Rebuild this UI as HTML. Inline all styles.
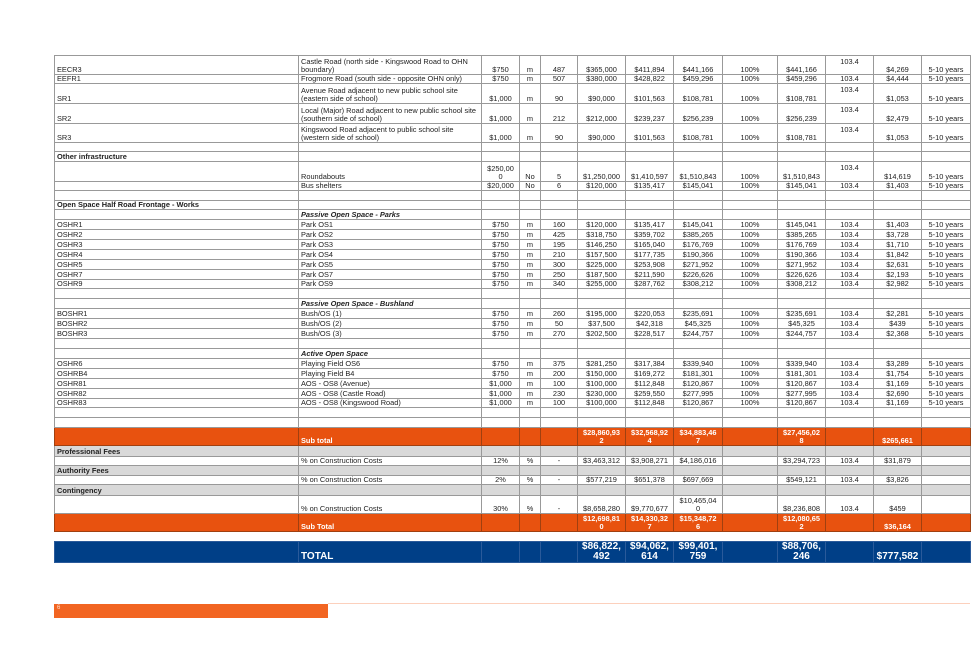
<!DOCTYPE html>
<html><head><meta charset="utf-8"><style>
body{margin:0;width:979px;height:654px;background:#fff;position:relative;overflow:hidden;font-family:"Liberation Sans",Arial,sans-serif;}
table{position:absolute;left:54px;border-collapse:collapse;table-layout:fixed;width:916px;font-size:7.4px;line-height:8px;color:#222;}
td{border:1px solid #999;padding:0 2px;text-align:center;vertical-align:bottom;white-space:nowrap;overflow:hidden;}
td.l{text-align:left;white-space:normal;}
td.m{vertical-align:middle;}
td.t{vertical-align:top;padding-top:2px;}
tr.b td{font-weight:bold;}
tr.g td{background:#d9d9d9;font-weight:bold;}
tr.o td{background:#e8520f;color:#fff;font-weight:bold;border-color:#a04010;}
i{font-weight:bold;}
.tot td{background:#003f87;color:#fff;font-weight:bold;font-size:10px;line-height:10px;border-color:#2a5a9a;}
</style></head><body>
<table style="top:55px">
<colgroup><col style="width:244px"><col style="width:183px"><col style="width:38px"><col style="width:21px"><col style="width:37px"><col style="width:48px"><col style="width:48px"><col style="width:49px"><col style="width:55px"><col style="width:48px"><col style="width:48px"><col style="width:48px"><col style="width:49px"></colgroup>
<tr style="height:19px"><td class="l">EECR3</td><td class="l">Castle Road (north side - Kingswood Road to OHN boundary)</td><td>$750</td><td>m</td><td>487</td><td>$365,000</td><td>$411,894</td><td>$441,166</td><td>100%</td><td>$441,166</td><td class="t">103.4</td><td>$4,269</td><td>5-10 years</td></tr>
<tr style="height:9px"><td class="l">EEFR1</td><td class="l">Frogmore Road (south side - opposite OHN only)</td><td>$750</td><td>m</td><td>507</td><td>$380,000</td><td>$428,822</td><td>$459,296</td><td>100%</td><td>$459,296</td><td>103.4</td><td>$4,444</td><td>5-10 years</td></tr>
<tr style="height:20px"><td class="l">SR1</td><td class="l">Avenue Road adjacent to new public school site (eastern side of school)</td><td>$1,000</td><td>m</td><td>90</td><td>$90,000</td><td>$101,563</td><td>$108,781</td><td>100%</td><td>$108,781</td><td class="t">103.4</td><td>$1,053</td><td>5-10 years</td></tr>
<tr style="height:20px"><td class="l">SR2</td><td class="l">Local (Major) Road adjacent to new public school site (southern side of school)</td><td>$1,000</td><td>m</td><td>212</td><td>$212,000</td><td>$239,237</td><td>$256,239</td><td>100%</td><td>$256,239</td><td class="t">103.4</td><td>$2,479</td><td>5-10 years</td></tr>
<tr style="height:19px"><td class="l">SR3</td><td class="l">Kingswood Road adjacent to public school site (western side of school)</td><td>$1,000</td><td>m</td><td>90</td><td>$90,000</td><td>$101,563</td><td>$108,781</td><td>100%</td><td>$108,781</td><td class="t">103.4</td><td>$1,053</td><td>5-10 years</td></tr>
<tr style="height:9px"><td></td><td></td><td></td><td></td><td></td><td></td><td></td><td></td><td></td><td></td><td></td><td></td><td></td></tr>
<tr class="b" style="height:10px"><td class="l">Other infrastructure</td><td></td><td></td><td></td><td></td><td></td><td></td><td></td><td></td><td></td><td></td><td></td><td></td></tr>
<tr style="height:20px"><td class="l"></td><td class="l">Roundabouts</td><td>$250,00<br>0</td><td>No</td><td>5</td><td>$1,250,000</td><td>$1,410,597</td><td>$1,510,843</td><td>100%</td><td>$1,510,843</td><td class="t">103.4</td><td>$14,619</td><td>5-10 years</td></tr>
<tr style="height:9px"><td class="l"></td><td class="l">Bus shelters</td><td>$20,000</td><td>No</td><td>6</td><td>$120,000</td><td>$135,417</td><td>$145,041</td><td>100%</td><td>$145,041</td><td>103.4</td><td>$1,403</td><td>5-10 years</td></tr>
<tr style="height:10px"><td></td><td></td><td></td><td></td><td></td><td></td><td></td><td></td><td></td><td></td><td></td><td></td><td></td></tr>
<tr class="b" style="height:9px"><td class="l">Open Space Half Road Frontage - Works</td><td></td><td></td><td></td><td></td><td></td><td></td><td></td><td></td><td></td><td></td><td></td><td></td></tr>
<tr style="height:10px"><td></td><td class="l"><i>Passive Open Space - Parks</i></td><td></td><td></td><td></td><td></td><td></td><td></td><td></td><td></td><td></td><td></td><td></td></tr>
<tr style="height:10px"><td class="l">OSHR1</td><td class="l">Park OS1</td><td>$750</td><td>m</td><td>160</td><td>$120,000</td><td>$135,417</td><td>$145,041</td><td>100%</td><td>$145,041</td><td>103.4</td><td>$1,403</td><td>5-10 years</td></tr>
<tr style="height:10px"><td class="l">OSHR2</td><td class="l">Park OS2</td><td>$750</td><td>m</td><td>425</td><td>$318,750</td><td>$359,702</td><td>$385,265</td><td>100%</td><td>$385,265</td><td>103.4</td><td>$3,728</td><td>5-10 years</td></tr>
<tr style="height:10px"><td class="l">OSHR3</td><td class="l">Park OS3</td><td>$750</td><td>m</td><td>195</td><td>$146,250</td><td>$165,040</td><td>$176,769</td><td>100%</td><td>$176,769</td><td>103.4</td><td>$1,710</td><td>5-10 years</td></tr>
<tr style="height:10px"><td class="l">OSHR4</td><td class="l">Park OS4</td><td>$750</td><td>m</td><td>210</td><td>$157,500</td><td>$177,735</td><td>$190,366</td><td>100%</td><td>$190,366</td><td>103.4</td><td>$1,842</td><td>5-10 years</td></tr>
<tr style="height:10px"><td class="l">OSHR5</td><td class="l">Park OS5</td><td>$750</td><td>m</td><td>300</td><td>$225,000</td><td>$253,908</td><td>$271,952</td><td>100%</td><td>$271,952</td><td>103.4</td><td>$2,631</td><td>5-10 years</td></tr>
<tr style="height:10px"><td class="l">OSHR7</td><td class="l">Park OS7</td><td>$750</td><td>m</td><td>250</td><td>$187,500</td><td>$211,590</td><td>$226,626</td><td>100%</td><td>$226,626</td><td>103.4</td><td>$2,193</td><td>5-10 years</td></tr>
<tr style="height:9px"><td class="l">OSHR9</td><td class="l">Park OS9</td><td>$750</td><td>m</td><td>340</td><td>$255,000</td><td>$287,762</td><td>$308,212</td><td>100%</td><td>$308,212</td><td>103.4</td><td>$2,982</td><td>5-10 years</td></tr>
<tr style="height:10px"><td></td><td></td><td></td><td></td><td></td><td></td><td></td><td></td><td></td><td></td><td></td><td></td><td></td></tr>
<tr style="height:10px"><td></td><td class="l"><i>Passive Open Space - Bushland</i></td><td></td><td></td><td></td><td></td><td></td><td></td><td></td><td></td><td></td><td></td><td></td></tr>
<tr style="height:10px"><td class="l">BOSHR1</td><td class="l">Bush/OS (1)</td><td>$750</td><td>m</td><td>260</td><td>$195,000</td><td>$220,053</td><td>$235,691</td><td>100%</td><td>$235,691</td><td>103.4</td><td>$2,281</td><td>5-10 years</td></tr>
<tr style="height:10px"><td class="l">BOSHR2</td><td class="l">Bush/OS (2)</td><td>$750</td><td>m</td><td>50</td><td>$37,500</td><td>$42,318</td><td>$45,325</td><td>100%</td><td>$45,325</td><td>103.4</td><td>$439</td><td>5-10 years</td></tr>
<tr style="height:10px"><td class="l">BOSHR3</td><td class="l">Bush/OS (3)</td><td>$750</td><td>m</td><td>270</td><td>$202,500</td><td>$228,517</td><td>$244,757</td><td>100%</td><td>$244,757</td><td>103.4</td><td>$2,368</td><td>5-10 years</td></tr>
<tr style="height:10px"><td></td><td></td><td></td><td></td><td></td><td></td><td></td><td></td><td></td><td></td><td></td><td></td><td></td></tr>
<tr style="height:10px"><td></td><td class="l"><i>Active Open Space</i></td><td></td><td></td><td></td><td></td><td></td><td></td><td></td><td></td><td></td><td></td><td></td></tr>
<tr style="height:10px"><td class="l">OSHR6</td><td class="l">Playing Field OS6</td><td>$750</td><td>m</td><td>375</td><td>$281,250</td><td>$317,384</td><td>$339,940</td><td>100%</td><td>$339,940</td><td>103.4</td><td>$3,289</td><td>5-10 years</td></tr>
<tr style="height:10px"><td class="l">OSHRB4</td><td class="l">Playing Field B4</td><td>$750</td><td>m</td><td>200</td><td>$150,000</td><td>$169,272</td><td>$181,301</td><td>100%</td><td>$181,301</td><td>103.4</td><td>$1,754</td><td>5-10 years</td></tr>
<tr style="height:10px"><td class="l">OSHR81</td><td class="l">AOS - OS8 (Avenue)</td><td>$1,000</td><td>m</td><td>100</td><td>$100,000</td><td>$112,848</td><td>$120,867</td><td>100%</td><td>$120,867</td><td>103.4</td><td>$1,169</td><td>5-10 years</td></tr>
<tr style="height:10px"><td class="l">OSHR82</td><td class="l">AOS - OS8 (Castle Road)</td><td>$1,000</td><td>m</td><td>230</td><td>$230,000</td><td>$259,550</td><td>$277,995</td><td>100%</td><td>$277,995</td><td>103.4</td><td>$2,690</td><td>5-10 years</td></tr>
<tr style="height:9px"><td class="l">OSHR83</td><td class="l">AOS - OS8 (Kingswood Road)</td><td>$1,000</td><td>m</td><td>100</td><td>$100,000</td><td>$112,848</td><td>$120,867</td><td>100%</td><td>$120,867</td><td>103.4</td><td>$1,169</td><td>5-10 years</td></tr>
<tr style="height:10px"><td></td><td></td><td></td><td></td><td></td><td></td><td></td><td></td><td></td><td></td><td></td><td></td><td></td></tr>
<tr style="height:10px"><td></td><td></td><td></td><td></td><td></td><td></td><td></td><td></td><td></td><td></td><td></td><td></td><td></td></tr>
<tr class="o" style="height:18px"><td></td><td class="l">Sub total</td><td></td><td></td><td></td><td>$28,860,93<br>2</td><td>$32,568,92<br>4</td><td>$34,883,46<br>7</td><td></td><td>$27,456,02<br>8</td><td></td><td>$265,661</td><td></td></tr>
<tr class="g" style="height:11px"><td class="l">Professional Fees</td><td></td><td></td><td></td><td></td><td></td><td></td><td></td><td></td><td></td><td></td><td></td><td></td></tr>
<tr style="height:9px"><td></td><td class="l">% on Construction Costs</td><td>12%</td><td>%</td><td>-</td><td>$3,463,312</td><td>$3,908,271</td><td>$4,186,016</td><td></td><td>$3,294,723</td><td>103.4</td><td>$31,879</td><td></td></tr>
<tr class="g" style="height:10px"><td class="l">Authority Fees</td><td></td><td></td><td></td><td></td><td></td><td></td><td></td><td></td><td></td><td></td><td></td><td></td></tr>
<tr style="height:9px"><td></td><td class="l">% on Construction Costs</td><td>2%</td><td>%</td><td>-</td><td>$577,219</td><td>$651,378</td><td>$697,669</td><td></td><td>$549,121</td><td>103.4</td><td>$3,826</td><td></td></tr>
<tr class="g" style="height:11px"><td class="l">Contingency</td><td></td><td></td><td></td><td></td><td></td><td></td><td></td><td></td><td></td><td></td><td></td><td></td></tr>
<tr style="height:18px"><td></td><td class="l">% on Construction Costs</td><td>30%</td><td>%</td><td>-</td><td>$8,658,280</td><td>$9,770,677</td><td>$10,465,04<br>0</td><td></td><td>$8,236,808</td><td>103.4</td><td>$459</td><td></td></tr>
<tr class="o" style="height:18px"><td></td><td class="l">Sub Total</td><td></td><td></td><td></td><td>$12,698,81<br>0</td><td>$14,330,32<br>7</td><td>$15,348,72<br>6</td><td></td><td>$12,080,65<br>2</td><td></td><td>$36,164</td><td></td></tr>
</table>
<table class="tot" style="top:541px">
<colgroup><col style="width:244px"><col style="width:183px"><col style="width:38px"><col style="width:21px"><col style="width:37px"><col style="width:48px"><col style="width:48px"><col style="width:49px"><col style="width:55px"><col style="width:48px"><col style="width:48px"><col style="width:48px"><col style="width:49px"></colgroup>
<tr style="height:20px"><td></td><td class="l">TOTAL</td><td></td><td></td><td></td><td>$86,822,<br>492</td><td>$94,062,<br>614</td><td>$99,401,<br>759</td><td></td><td>$88,706,<br>246</td><td></td><td>$777,582</td><td></td></tr>
</table>
<div style="position:absolute;left:54px;top:604px;width:274px;height:14px;background:#f26522;"></div>
<div style="position:absolute;left:57px;top:605px;font-size:6px;color:#fde0d0;">6</div>
<div style="position:absolute;left:328px;top:603px;width:642px;height:1px;background:#fcd0bc;"></div>
</body></html>
